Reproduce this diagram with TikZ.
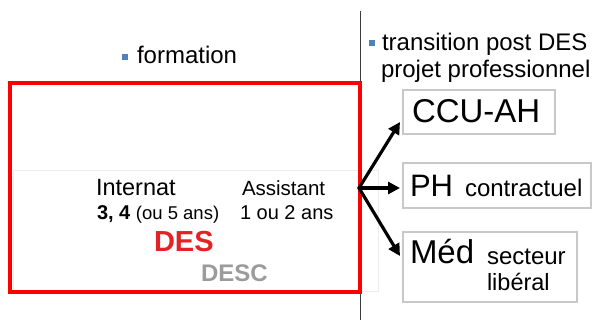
\documentclass[tikz,border=0pt]{standalone}
\usepackage{fontspec}
\setmainfont{Liberation Sans}
\usepackage{graphicx}
\usetikzlibrary{arrows.meta}
\definecolor{bul}{RGB}{79,129,189}
\definecolor{desred}{RGB}{228,34,38}
\definecolor{descgray}{RGB}{155,155,155}
\definecolor{boxgray}{RGB}{200,200,200}
\definecolor{faintgray}{RGB}{236,236,236}
\definecolor{vlinegray}{RGB}{60,60,60}
\newcommand\tx[3]{\fontsize{#1}{#1}\selectfont\scalebox{#2}[1]{#3}}
\begin{document}
\begin{tikzpicture}[x=1pt,y=-1pt,
  lbl/.style={anchor=base west, inner sep=0pt, outer sep=0pt},
  bullet/.style={fill=bul, minimum size=6pt, inner sep=0pt},
  optbox/.style={draw=boxgray, line width=1.5pt, inner sep=0pt},
  arr/.style={line width=3.2pt, line cap=round, -{Triangle[length=12pt,width=12pt]}}]
\useasboundingbox (0,0) rectangle (592,320);
% faint background panel
\node[draw=faintgray, line width=1pt, minimum width=365pt, minimum height=121pt, inner sep=0pt] (panel) at (195.5,231.5) {};
% vertical separator
\coordinate (vtop) at (360,11);
\coordinate (vbot) at (360,320);
\draw[vlinegray, line width=1pt] (vtop) -- (vbot);
% red frame
\node[draw=red, line width=4pt, minimum width=350pt, minimum height=209pt, inner sep=0pt] (frame) at (185,187.5) {};
% headings
\node[bullet] (b1) at (125,57) {};
\node[lbl] (formation) at (137,64) {\tx{24}{1}{formation}};
\node[bullet] (b2) at (372,43) {};
\node[lbl] (trans) at (382,51) {\tx{24}{1}{transition post DES}};
\node[lbl] (projet) at (381,78) {\tx{24}{1}{projet professionnel}};
% left content
\node[lbl] (internat) at (96,196) {\tx{23.5}{1}{Internat}};
\node[lbl] (duree) at (97,220) {\tx{20}{1}{\bfseries 3, 4} \tx{18.5}{1}{(ou 5 ans)}};
\node[lbl] (assistant) at (242,196) {\tx{20.5}{1}{Assistant}};
\node[lbl] (ans) at (240,220) {\tx{20}{1}{1 ou 2 ans}};
\node[lbl, text=desred] (des) at (154,252) {\tx{29}{1}{\bfseries DES}};
\node[lbl, text=descgray] (desc) at (201,282) {\tx{24}{1}{\bfseries DESC}};
% right boxes
\node[optbox, minimum width=152pt, minimum height=44pt] (ccu) at (479,112) {};
\node[optbox, minimum width=188pt, minimum height=45pt] (ph) at (497,185.5) {};
\node[optbox, minimum width=174pt, minimum height=70pt] (med) at (490,267) {};
\node[lbl] (ccut) at (412,123) {\tx{33}{1}{CCU-AH}};
\node[lbl] (pht) at (410,197) {\tx{31}{1}{PH}};
\node[lbl] (contr) at (465,197) {\tx{24}{1}{contractuel}};
\node[lbl] (medt) at (410,264) {\tx{33}{1}{Méd}};
\node[lbl] (sect) at (487,265) {\tx{24}{1}{secteur}};
\node[lbl] (lib) at (487,291) {\tx{23.5}{1}{libéral}};
% arrows
\coordinate (fork) at (359,188);
\coordinate (tccu) at (400,122);
\coordinate (tph) at (400,188);
\coordinate (tmed) at (400,256);
\draw[arr] (fork) -- (tccu);
\draw[arr] (fork) -- (tph);
\draw[arr] (fork) -- (tmed);
\end{tikzpicture}
\end{document}
